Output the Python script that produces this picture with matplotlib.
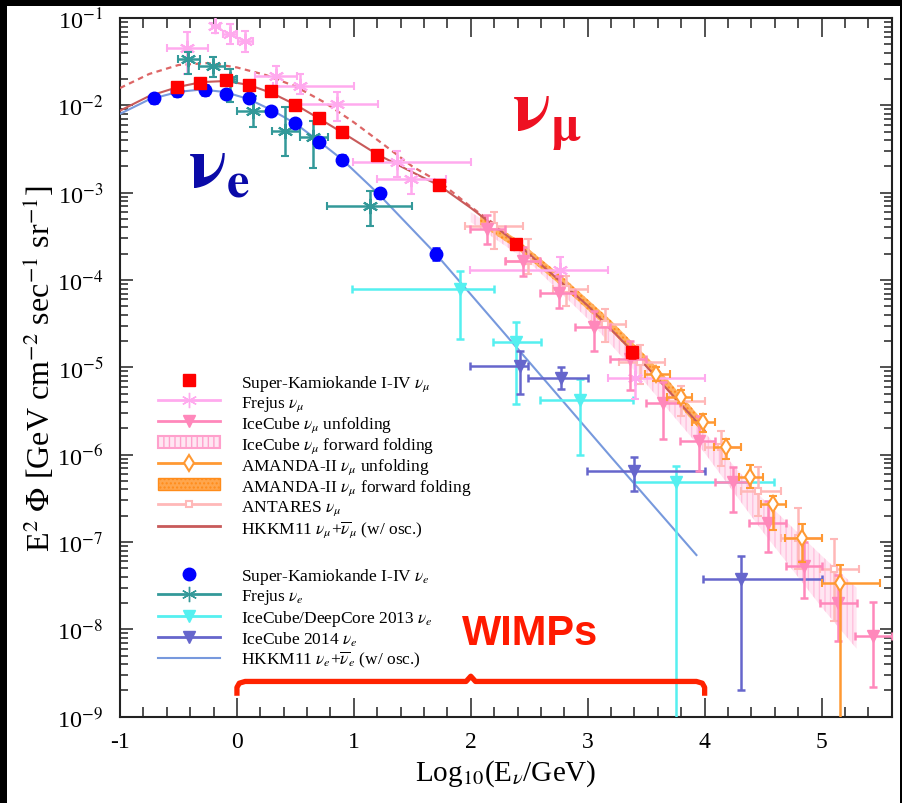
import numpy as np
import matplotlib
matplotlib.use("Agg")
import matplotlib.pyplot as plt
from matplotlib.lines import Line2D
from matplotlib.patches import Patch, Rectangle
from matplotlib.ticker import FixedLocator, NullFormatter, MultipleLocator, FuncFormatter

plt.rcParams['font.family'] = ['Liberation Serif', 'DejaVu Serif']
plt.rcParams['mathtext.fontset'] = 'stix'
plt.rcParams['axes.unicode_minus'] = False
plt.rcParams['hatch.linewidth'] = 1.0

# ---- Super-Kamiokande I-IV
sk_mu_x = [-0.51, -0.32, -0.09, 0.10, 0.29, 0.50, 0.70, 0.90, 1.20, 1.73, 2.39, 3.38]
sk_mu_y = [0.0161, 0.0180, 0.0193, 0.0171, 0.0145, 0.0101, 0.0071, 0.0049, 0.0027, 0.00122, 2.6e-4, 1.5e-5]
sk_mu_rel = [0.12, 0.12, 0.12, 0.10, 0.10, 0.10, 0.10, 0.10, 0.09, 0.10, 0.12, 0.15]

sk_e_x = [-0.71, -0.51, -0.27, -0.09, 0.10, 0.29, 0.50, 0.70, 0.90, 1.22, 1.70]
sk_e_y = [0.0121, 0.0147, 0.0151, 0.0135, 0.0120, 0.0087, 0.0063, 0.0038, 0.0024, 9.9e-4, 2.0e-4]
sk_e_rel = [0.12, 0.12, 0.12, 0.10, 0.10, 0.10, 0.10, 0.12, 0.12, 0.12, 0.15]

# ---- HKKM11 predictions
hkkm_mu_x = [-1.0, -0.75, -0.5, -0.3, -0.1, 0.1, 0.3, 0.5, 0.7, 0.9, 1.2, 1.5, 1.73, 2.0, 2.4, 3.0, 3.4, 4.0]
hkkm_mu_y = [0.0087, 0.0128, 0.0163, 0.0185, 0.0190, 0.0172, 0.0138, 0.0102, 0.0071, 0.0049, 0.00275,
             0.00172, 0.00121, 6.7e-4, 2.6e-4, 5.1e-5, 1.45e-5, 1.9e-6]
hkkm_mu_noosc_x = [-1.0, -0.75, -0.5, -0.25, 0.0, 0.25, 0.5, 0.75, 1.0, 1.25, 1.5, 1.75, 2.0, 2.2]
hkkm_mu_noosc_y = [0.0158, 0.0229, 0.0290, 0.0305, 0.0272, 0.0222, 0.0165, 0.0108, 0.0064, 0.0036,
                   0.0020, 0.00128, 6.9e-4, 4.4e-4]
hkkm_e_x = [-1.0, -0.75, -0.5, -0.3, -0.1, 0.1, 0.3, 0.5, 0.7, 0.9, 1.2, 1.7, 2.5, 3.2, 3.93]
hkkm_e_y = [0.0080, 0.0117, 0.0143, 0.0152, 0.0142, 0.0118, 0.0088, 0.0062, 0.0039, 0.0024, 0.00100,
            2.0e-4, 1.15e-5, 9.4e-7, 7.1e-8]

# ---- Frejus
fr_mu_x = [-0.425, -0.188, -0.06, 0.068, 0.331, 0.538, 0.852, 1.373, 1.492, 2.761, 3.402]
fr_mu_y = [0.045, 0.0816, 0.0656, 0.055, 0.0218, 0.0168, 0.0104, 0.00222, 0.00143, 1.31e-4, 7.66e-6]
fr_mu_xlo = [-0.601, -0.216, -0.117, 0.011, 0.154, 0.308, 0.538, 0.99, 1.194, 1.99, 3.17]
fr_mu_xhi = [-0.245, -0.145, 0.0, 0.14, 0.51, 1.0, 1.205, 2.0, 1.79, 3.17, 4.0]
fr_mu_ylo = [0.0229, 0.068, 0.050, 0.0404, 0.0168, 0.0135, 0.0066, 0.0015, 0.00096, 7.9e-5, 4.3e-6]
fr_mu_yhi = [0.0686, 0.11, 0.085, 0.0715, 0.0284, 0.0229, 0.0142, 0.00302, 0.00186, 1.83e-4, 1.34e-5]

fr_e_x = [-0.416, -0.208, -0.06, 0.14, 0.41, 0.652, 1.137]
fr_e_y = [0.0339, 0.0285, 0.020, 0.00867, 0.00512, 0.0043, 7.08e-4]
fr_e_xlo = [-0.5, -0.322, -0.10, 0.0, 0.297, 0.538, 0.767]
fr_e_xhi = [-0.316, -0.103, 0.0, 0.268, 0.538, 0.78, 1.493]
fr_e_ylo = [0.0229, 0.0211, 0.0109, 0.0056, 0.0026, 0.0019, 4.18e-4]
fr_e_yhi = [0.0405, 0.0358, 0.026, 0.0129, 0.0095, 0.0066, 1.05e-3]

# ---- IceCube / DeepCore 2013 nu_e
icdc_x = [1.906, 2.39, 2.932, 3.752]
icdc_y = [7.87e-5, 1.96e-5, 4.25e-6, 4.93e-7]
icdc_xlo = [0.983, 2.19, 2.59, 3.4]
icdc_xhi = [2.197, 2.6, 3.39, 4.59]
icdc_ylo = [2.1e-5, 3.8e-6, 9.9e-7, 1e-10]
icdc_yhi = [1.28e-4, 3.27e-5, 7.3e-6, 7.45e-7]

# ---- IceCube 2014 nu_e
ic14_x = [2.424, 2.769, 3.393, 4.308]
ic14_y = [1.04e-5, 7.65e-6, 6.53e-7, 3.75e-8]
ic14_xlo = [1.99, 2.49, 2.99, 3.99]
ic14_xhi = [2.49, 3.0, 4.0, 5.0]
ic14_ylo = [5.0e-6, 5.6e-6, 3.85e-7, 2.02e-9]
ic14_yhi = [1.55e-5, 1.0e-5, 9.3e-7, 6.9e-8]

# ---- IceCube nu_mu unfolding
icu_x = [2.139, 2.446, 2.754, 3.051, 3.36, 3.644, 3.949, 4.242, 4.541, 4.846, 5.14, 5.44]
icu_y = [3.83e-4, 1.66e-4, 7.08e-5, 2.87e-5, 1.25e-5, 3.96e-6, 1.44e-6, 4.89e-7, 1.67e-7, 5.32e-8, 2.03e-8, 8.4e-9]
icu_xlo = [1.99, 2.29, 2.59, 2.89, 3.19, 3.50, 3.79, 4.09, 4.38, 4.70, 4.99, 5.29]
icu_xhi = [2.29, 2.59, 2.89, 3.19, 3.50, 3.79, 4.09, 4.38, 4.70, 5.0, 5.30, 5.60]
icu_ylo = [2.6e-4, 1.1e-4, 4.85e-5, 1.55e-5, 5.5e-6, 1.5e-6, 6.5e-7, 2.19e-7, 7.6e-8, 2.31e-8, 7.3e-9, 2.2e-9]
icu_yhi = [5.5e-4, 2.4e-4, 1.12e-4, 4.4e-5, 2.0e-5, 6.8e-6, 2.8e-6, 7.2e-7, 2.96e-7, 9.9e-8, 4.2e-8, 2.06e-8]

# ---- ANTARES nu_mu
ant_x = [2.197, 2.49, 2.817, 3.145, 3.444, 3.80, 4.142, 4.455, 4.797, 5.103]
ant_y = [4.18e-4, 1.66e-4, 7.87e-5, 3.13e-5, 1.14e-5, 4.14e-6, 1.21e-6, 3.85e-7, 1.12e-7, 4.89e-8]
ant_xlo = [1.95, 2.3, 2.70, 3.03, 3.27, 3.66, 4.0, 4.31, 4.65, 4.99]
ant_xhi = [2.45, 2.59, 3.0, 3.33, 3.66, 4.0, 4.31, 4.65, 5.0, 5.32]
ant_ylo = [2.26e-4, 1.17e-4, 5.1e-5, 1.93e-5, 6.5e-6, 2.8e-6, 7.45e-7, 1.98e-7, 4.9e-8, 1.25e-8]
ant_yhi = [6.0e-4, 2.95e-4, 1.12e-4, 4.64e-5, 1.8e-5, 6.2e-6, 1.87e-6, 7.2e-7, 2.44e-7, 1.08e-7]

# ---- AMANDA-II nu_mu unfolding
am_x = [3.587, 3.80, 3.986, 4.185, 4.385, 4.584, 4.831, 5.154]
am_y = [8.36e-6, 4.64e-6, 2.34e-6, 1.21e-6, 5.62e-7, 2.71e-7, 1.12e-7, 3.44e-8]
am_xlo = [3.49, 3.68, 3.89, 4.08, 4.29, 4.48, 4.69, 5.0]
am_xhi = [3.70, 3.89, 4.09, 4.31, 4.50, 4.70, 5.0, 5.5]
am_ylo = [7.0e-6, 3.9e-6, 1.8e-6, 9.0e-7, 4.2e-7, 1.36e-7, 5.9e-8, 1e-10]
am_yhi = [1.0e-5, 5.5e-6, 2.9e-6, 1.5e-6, 7.6e-7, 3.4e-7, 1.6e-7, 5.4e-8]

# ---- forward folding bands
am_ff_x = [2.08, 2.4, 2.8, 3.2, 3.6, 3.97]
am_ff_lo = [4.3e-4, 2.25e-4, 8.0e-5, 2.6e-5, 7.3e-6, 1.85e-6]
am_ff_hi = [5.5e-4, 2.9e-4, 1.05e-4, 3.45e-5, 9.8e-6, 2.6e-6]

icff_x = [2.0, 2.5, 3.0, 3.5, 4.0, 4.5, 5.0, 5.3]
icff_lo = [4.6e-4, 1.6e-4, 3.6e-5, 6.5e-6, 1.05e-6, 1.3e-7, 1.8e-8, 6e-9]
icff_hi = [6.0e-4, 2.2e-4, 5.0e-5, 1.0e-5, 1.8e-6, 3.1e-7, 7e-8, 3e-8]

y_decades = [-9, -8, -7, -6, -5, -4, -3, -2, -1]
wimp_range = [0.0, 4.0]

c_sk_mu = '#ff0000'
c_sk_e = '#0000ff'
c_fr_mu = '#ffaaee'
c_fr_e = '#339999'
c_icu = '#ff88bb'
c_ant = '#ffb8b8'
c_am = '#ff9933'
c_hk_mu = '#c85a5a'
c_hk_e = '#7799dd'
c_icdc = '#55f0f0'
c_ic14 = '#6666cc'


def xyerr(x, y, xlo, xhi, ylo, yhi):
    x, y = np.array(x), np.array(y)
    xe = [x - np.array(xlo), np.array(xhi) - x]
    ye = [y - np.array(ylo), np.array(yhi) - y]
    return xe, ye


fig = plt.figure(figsize=(9.03, 8.04), dpi=100)
fig.patch.set_facecolor('black')
fig.patches.append(Rectangle((7 / 903, 0), 893 / 903, 797 / 804, transform=fig.transFigure,
                             facecolor='white', edgecolor='none', zorder=-10))
ax = fig.add_axes([0.1329, 0.1073, 0.8546, 0.8690])
ax.set_facecolor('white')

# bands
ax.fill_between(icff_x, icff_lo, icff_hi, facecolor='#ffe6f2', edgecolor='#ffc0dd',
                hatch='|||', linewidth=0, zorder=1)
ax.fill_between(am_ff_x, am_ff_lo, am_ff_hi, facecolor='#ffb060', edgecolor='#ff8c1a',
                hatch='....', linewidth=0, zorder=2)

# model curves
ax.plot(hkkm_mu_noosc_x, hkkm_mu_noosc_y, color='#dd6666', lw=1.6, ls=(0, (2.5, 2)), zorder=3)
ax.plot(hkkm_mu_x, hkkm_mu_y, color=c_hk_mu, lw=1.5, zorder=3)
ax.plot(hkkm_e_x, hkkm_e_y, color=c_hk_e, lw=1.5, zorder=3)

eb = dict(capsize=3, elinewidth=1.8, capthick=1.8, ls='none')

xe, ye = xyerr(icdc_x, icdc_y, icdc_xlo, icdc_xhi, icdc_ylo, icdc_yhi)
ax.errorbar(icdc_x, icdc_y, xerr=xe, yerr=ye, color=c_icdc, marker='v', ms=8, zorder=4, **eb)
xe, ye = xyerr(ic14_x, ic14_y, ic14_xlo, ic14_xhi, ic14_ylo, ic14_yhi)
ax.errorbar(ic14_x, ic14_y, xerr=xe, yerr=ye, color=c_ic14, marker='v', ms=8, zorder=4, **eb)
xe, ye = xyerr(fr_mu_x, fr_mu_y, fr_mu_xlo, fr_mu_xhi, fr_mu_ylo, fr_mu_yhi)
ax.errorbar(fr_mu_x, fr_mu_y, xerr=xe, yerr=ye, color=c_fr_mu, marker=(6, 2, 0), ms=11, mew=1.5,
            zorder=4, **eb)
xe, ye = xyerr(fr_e_x, fr_e_y, fr_e_xlo, fr_e_xhi, fr_e_ylo, fr_e_yhi)
ax.errorbar(fr_e_x, fr_e_y, xerr=xe, yerr=ye, color=c_fr_e, marker=(6, 2, 0), ms=11, mew=1.5,
            zorder=5, **eb)
xe, ye = xyerr(ant_x, ant_y, ant_xlo, ant_xhi, ant_ylo, ant_yhi)
ax.errorbar(ant_x, ant_y, xerr=xe, yerr=ye, color=c_ant, marker='s', ms=5, mfc='white', mew=1.5,
            zorder=4, **eb)
xe, ye = xyerr(icu_x, icu_y, icu_xlo, icu_xhi, icu_ylo, icu_yhi)
ax.errorbar(icu_x, icu_y, xerr=xe, yerr=ye, color=c_icu, marker='v', ms=8, zorder=5, **eb)
xe, ye = xyerr(am_x, am_y, am_xlo, am_xhi, am_ylo, am_yhi)
ax.errorbar(am_x, am_y, xerr=xe, yerr=ye, color=c_am, marker='d', ms=8, mfc='white', mew=1.5,
            zorder=6, **eb)

sky = np.array(sk_e_y)
ax.errorbar(sk_e_x, sk_e_y, yerr=sky * np.array(sk_e_rel), color=c_sk_e, marker='o', ms=9,
            zorder=7, **eb)
skm = np.array(sk_mu_y)
ax.errorbar(sk_mu_x, sk_mu_y, yerr=skm * np.array(sk_mu_rel), color=c_sk_mu, marker='s', ms=9,
            zorder=8, **eb)

# axes
ax.set_yscale('log')
ax.set_xlim(-1, 5.6)
ax.set_ylim(1e-9, 1e-1)
ax.xaxis.set_major_locator(MultipleLocator(1))
ax.xaxis.set_minor_locator(MultipleLocator(0.2))
ax.yaxis.set_major_locator(FixedLocator([10.0 ** d for d in y_decades]))
ax.yaxis.set_minor_locator(FixedLocator([m * 10.0 ** d for d in y_decades[:-1] for m in range(2, 10)]))
ax.yaxis.set_minor_formatter(NullFormatter())
ax.yaxis.set_major_formatter(FuncFormatter(lambda v, p: r'10$^{%d}$' % round(np.log10(v))))
ax.tick_params(which='both', direction='in', top=True, right=True, width=1.1, color='#222222')
ax.tick_params(axis='x', which='major', length=14, pad=10, labelsize=17)
ax.tick_params(axis='x', which='minor', length=7)
ax.tick_params(axis='y', which='major', length=9, pad=12, labelsize=17.5)
ax.tick_params(axis='y', which='minor', length=5.5)
for s in ax.spines.values():
    s.set_linewidth(1.5)
    s.set_color('#222222')

ax.set_xlabel(r'Log$_{10}$(E$_\nu$/GeV)', fontsize=21, labelpad=4)
ax.set_ylabel(r'E$^2$ $\Phi$ [GeV cm$^{-2}$ sec$^{-1}$ sr$^{-1}$]', fontsize=23, labelpad=0)

# flavour labels
ax.text(0.088, 0.759, r'$\mathbf{\nu_e}$', transform=ax.transAxes, color='#0a0aa8',
        fontsize=52, ha='left', va='baseline')
ax.text(0.508, 0.841, r'$\mathbf{\nu_\mu}$', transform=ax.transAxes, color='#ee1122',
        fontsize=52, ha='left', va='baseline')

# WIMP search energy range
ax.text(0.531, 0.104, 'WIMPs', transform=ax.transAxes, color='#ff1a00', fontsize=30,
        fontweight='bold', family='Liberation Sans', ha='center', va='baseline')
trans = matplotlib.transforms.blended_transform_factory(ax.transData, ax.transAxes)
x0, x1 = wimp_range
xm = 0.5 * (x0 + x1)
bx = [x0, x0, x0 + 0.02, x0 + 0.07, xm - 0.04, xm, xm + 0.04, x1 - 0.07, x1 - 0.02, x1, x1]
by = [0.030, 0.042, 0.048, 0.0505, 0.0505, 0.058, 0.0505, 0.0505, 0.048, 0.042, 0.030]
ax.plot(bx, by, color='#ff2200', lw=3.8, transform=trans, solid_capstyle='butt',
        solid_joinstyle='round', clip_on=False, zorder=9)

# legends
leg_fs = 12.5
h_mu = [
    Line2D([], [], ls='none', marker='s', color=c_sk_mu, ms=9),
    Line2D([], [], color=c_fr_mu, marker=(6, 2, 0), ms=11, lw=2),
    Line2D([], [], color=c_icu, marker='v', ms=8, lw=2),
    Patch(facecolor='#ffe6f2', edgecolor='#ffa0cc', hatch='|||', lw=1.5),
    Line2D([], [], color=c_am, marker='d', ms=8, mfc='white', mew=1.5, lw=2),
    Patch(facecolor='#ffa64d', edgecolor='#ff8c1a', hatch='....', lw=1),
    Line2D([], [], color=c_ant, marker='s', ms=5, mfc='white', mew=1.5, lw=2),
    Line2D([], [], color=c_hk_mu, lw=2),
]
l_mu = [
    r'Super-Kamiokande I-IV $\nu_\mu$',
    r'Frejus $\nu_\mu$',
    r'IceCube $\nu_\mu$ unfolding',
    r'IceCube $\nu_\mu$ forward folding',
    r'AMANDA-II $\nu_\mu$ unfolding',
    r'AMANDA-II $\nu_\mu$ forward folding',
    r'ANTARES $\nu_\mu$',
    r'HKKM11 $\nu_\mu$+$\overline{\nu}_\mu$ (w/ osc.)',
]
h_e = [
    Line2D([], [], ls='none', marker='o', color=c_sk_e, ms=9),
    Line2D([], [], color=c_fr_e, marker=(6, 2, 0), ms=11, lw=2),
    Line2D([], [], color=c_icdc, marker='v', ms=8, lw=2),
    Line2D([], [], color=c_ic14, marker='v', ms=8, lw=2),
    Line2D([], [], color=c_hk_e, lw=1.5),
]
l_e = [
    r'Super-Kamiokande I-IV $\nu_e$',
    r'Frejus $\nu_e$',
    r'IceCube/DeepCore 2013 $\nu_e$',
    r'IceCube 2014 $\nu_e$',
    r'HKKM11 $\nu_e$+$\overline{\nu}_e$ (w/ osc.)',
]
legkw = dict(frameon=False, fontsize=leg_fs, handlelength=3.6, handletextpad=1.2, labelspacing=0.08,
             borderpad=0, borderaxespad=0, loc='upper left', bbox_transform=fig.transFigure)
leg1 = ax.legend(h_mu, l_mu, bbox_to_anchor=(158 / 903, 1 - 374 / 804), **legkw)
ax.add_artist(leg1)
ax.legend(h_e, l_e, bbox_to_anchor=(158 / 903, 1 - 567 / 804), **legkw)

fig.savefig('out.png', dpi=100, facecolor=fig.get_facecolor())
